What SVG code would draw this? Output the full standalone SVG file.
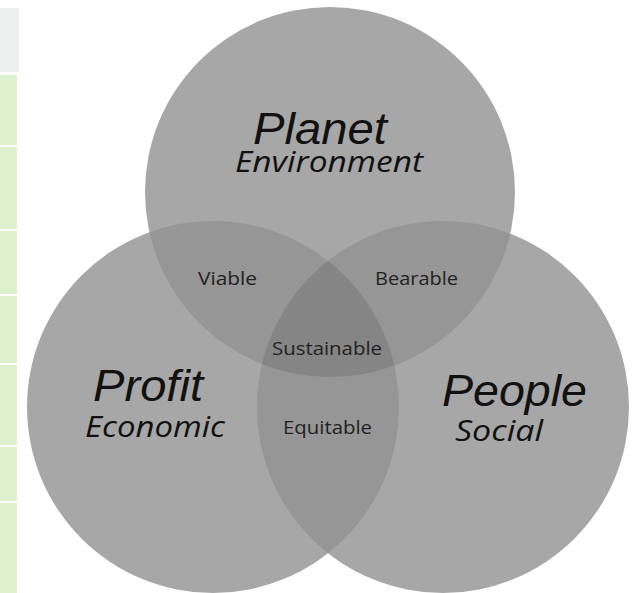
<svg xmlns="http://www.w3.org/2000/svg" width="641" height="593" viewBox="0 0 641 593">
<style>
.cell{fill:#dff0cf}
.one{fill:#a7a7a7}
.two{fill:#969696}
.three{fill:#858585}
.big{font-family:"Liberation Sans",Arial,sans-serif;font-style:italic;fill:#111}
.sub{font-family:"Open Sans","Noto Sans",sans-serif;font-style:italic;fill:#111}
.lbl{font-family:"Open Sans","Noto Sans",sans-serif;fill:#222;font-size:18px}
</style>
<defs>
<clipPath id="cTop"><circle cx="330" cy="192" r="185"/></clipPath>
<clipPath id="cLeft"><circle cx="213" cy="407" r="186"/></clipPath>
<clipPath id="cRight"><circle cx="443" cy="407" r="186"/></clipPath>
</defs>
<rect width="641" height="593" fill="#fff"/>
<g id="table">
<rect x="0" y="8" width="19" height="64" fill="#eef0f0"/>
<rect class="cell" x="0" y="75" width="17" height="70"/>
<rect class="cell" x="0" y="147" width="17" height="82"/>
<rect class="cell" x="0" y="231" width="17" height="63"/>
<rect class="cell" x="0" y="296" width="17" height="67"/>
<rect class="cell" x="0" y="365" width="17" height="80"/>
<rect class="cell" x="0" y="447" width="17" height="54"/>
<rect class="cell" x="0" y="503" width="17" height="90"/>
</g>
<g id="circles">
<circle id="planet-circle" class="one" cx="330" cy="192" r="185"/>
<circle id="profit-circle" class="one" cx="213" cy="407" r="186"/>
<circle id="people-circle" class="one" cx="443" cy="407" r="186"/>
<g clip-path="url(#cTop)">
<circle class="two" cx="213" cy="407" r="186"/>
<circle class="two" cx="443" cy="407" r="186"/>
</g>
<circle class="two" cx="443" cy="407" r="186" clip-path="url(#cLeft)"/>
<g clip-path="url(#cTop)">
<circle class="three" cx="443" cy="407" r="186" clip-path="url(#cLeft)"/>
</g>
</g>
<g id="planet">
<text class="big" x="253" y="144" font-size="44" textLength="134" lengthAdjust="spacingAndGlyphs">Planet</text>
<text class="sub" x="235" y="172" font-size="29" textLength="188" lengthAdjust="spacingAndGlyphs">Environment</text>
</g>
<g id="profit">
<text class="big" x="93" y="401" font-size="45" textLength="110" lengthAdjust="spacingAndGlyphs">Profit</text>
<text class="sub" x="85" y="437" font-size="29" textLength="140" lengthAdjust="spacingAndGlyphs">Economic</text>
</g>
<g id="people">
<text class="big" x="442" y="406" font-size="44" textLength="145" lengthAdjust="spacingAndGlyphs">People</text>
<text class="sub" x="455" y="441" font-size="30" textLength="88" lengthAdjust="spacingAndGlyphs">Social</text>
</g>
<g id="viable"><text class="lbl" x="198" y="285" textLength="59" lengthAdjust="spacingAndGlyphs">Viable</text></g>
<g id="bearable"><text class="lbl" x="375" y="285" textLength="83" lengthAdjust="spacingAndGlyphs">Bearable</text></g>
<g id="sustainable"><text class="lbl" x="272" y="355" textLength="110" lengthAdjust="spacingAndGlyphs">Sustainable</text></g>
<g id="equitable"><text class="lbl" x="283" y="434" textLength="89" lengthAdjust="spacingAndGlyphs">Equitable</text></g>
</svg>
